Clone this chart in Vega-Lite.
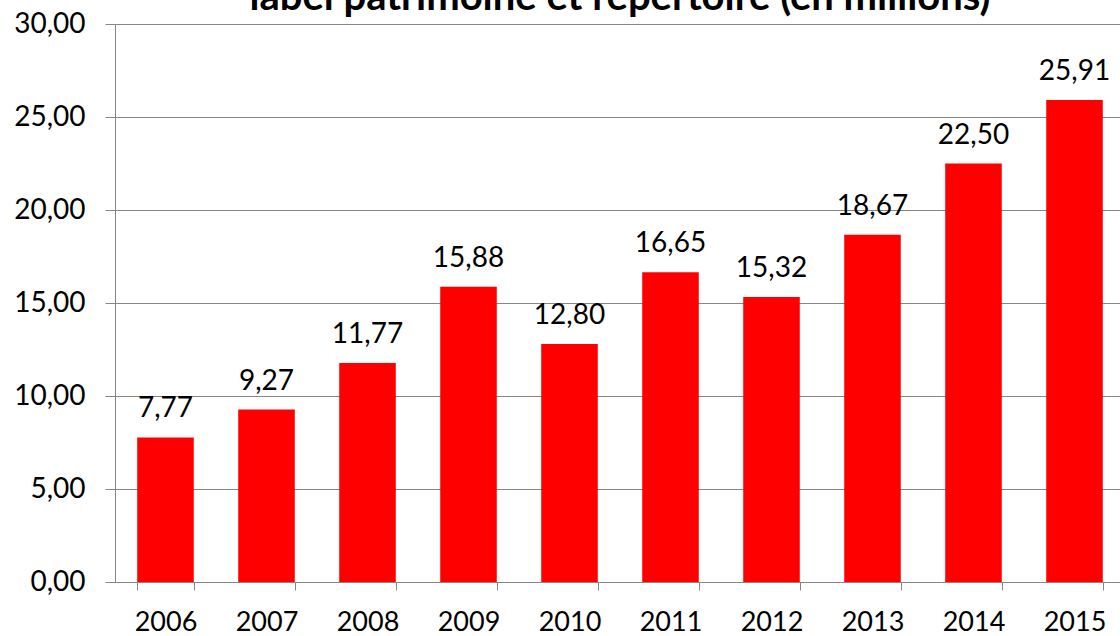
{
  "$schema": "https://vega.github.io/schema/vega-lite/v6.json",
  "autosize": {"type": "none"},
  "padding": {"left": 115, "top": 24, "right": 0, "bottom": 54},
  "width": 1010,
  "height": 558,
  "background": "white",
  "title": {
    "text": "label patrimoine et répertoire (en millions)",
    "font": "Lato",
    "fontSize": 40,
    "fontWeight": "bold",
    "color": "black",
    "anchor": "middle",
    "frame": "group",
    "baseline": "alphabetic",
    "offset": -40
  },
  "data": {
    "values": [
      {"annee": "2006", "valeur": 7.77},
      {"annee": "2007", "valeur": 9.27},
      {"annee": "2008", "valeur": 11.77},
      {"annee": "2009", "valeur": 15.88},
      {"annee": "2010", "valeur": 12.80},
      {"annee": "2011", "valeur": 16.65},
      {"annee": "2012", "valeur": 15.32},
      {"annee": "2013", "valeur": 18.67},
      {"annee": "2014", "valeur": 22.50},
      {"annee": "2015", "valeur": 25.91}
    ]
  },
  "encoding": {
    "x": {
      "field": "annee",
      "type": "nominal",
      "sort": null,
      "scale": {"paddingInner": 0.44, "paddingOuter": 0.22},
      "axis": {
        "title": null,
        "labelAngle": 0,
        "labelFont": "Lato",
        "labelFontSize": 27,
        "labelColor": "black",
        "labelPadding": 19,
        "tickBand": "extent",
        "tickSize": 8,
        "tickColor": "#868686",
        "domainColor": "#868686",
        "grid": false
      }
    },
    "y": {
      "field": "valeur",
      "type": "quantitative",
      "scale": {"domain": [0, 30], "nice": false},
      "axis": {
        "title": null,
        "values": [0, 5, 10, 15, 20, 25, 30],
        "format": ".2f",
        "labelFont": "Lato",
        "labelFontSize": 28,
        "labelColor": "black",
        "labelPadding": 20,
        "tickSize": 10,
        "tickColor": "#868686",
        "domainColor": "#868686",
        "gridColor": "#868686",
        "grid": true
      }
    }
  },
  "layer": [
    {"mark": {"type": "bar", "color": "#FF0000"}},
    {
      "mark": {"type": "text", "baseline": "alphabetic", "dy": -20, "font": "Lato", "fontSize": 28, "color": "black"},
      "encoding": {"text": {"field": "valeur", "type": "quantitative", "format": ".2f"}}
    }
  ],
  "config": {
    "locale": {"number": {"decimal": ",", "thousands": " ", "grouping": [3], "currency": ["", " €"]}},
    "view": {"stroke": null}
  }
}
